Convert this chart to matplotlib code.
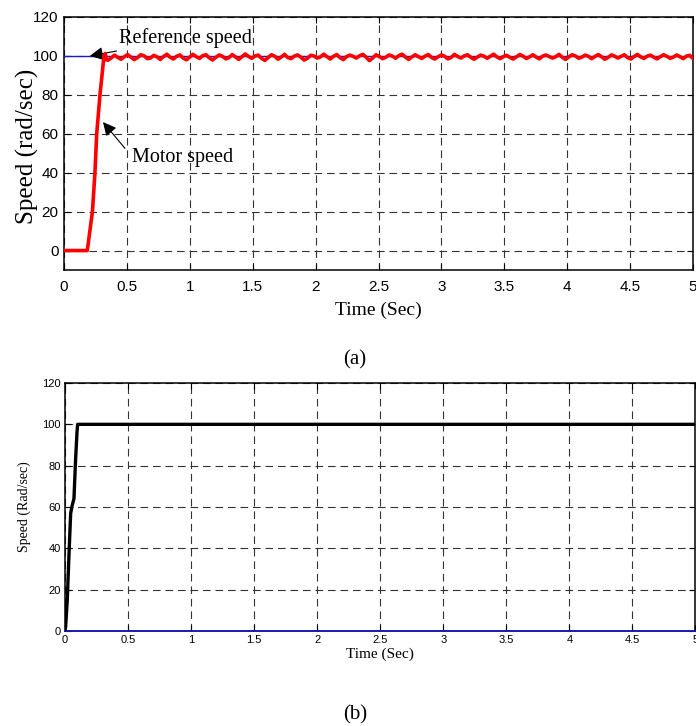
import numpy as np
import matplotlib
matplotlib.use('Agg')
import matplotlib.pyplot as plt

plt.rcParams['lines.scale_dashes'] = False

# panel (a): reference vs motor speed
ref_t = [0.0, 5.0]
ref_speed = [100, 100]
start_t = [0.0, 0.185, 0.226, 0.246, 0.26, 0.286, 0.318, 0.328, 0.338]
start_speed = [0.0, 0.0, 20, 40, 60, 80, 100, 101.2, 98.0]
ripple = [97.8, 99.0, 100.4, 99.2, 98.3, 99.6, 100.7, 99.4, 98.1, 99.1,
          100.6, 100.1, 98.6, 98.9, 100.3, 99.5, 98.2, 99.7, 100.9, 99.3,
          98.4, 99.8, 100.5, 98.9, 98.0, 99.4, 100.8, 99.6, 98.7, 100.2,
          100.6, 99.0, 97.9, 99.3, 100.5, 99.8, 98.5, 99.1, 100.7, 99.5,
          98.2, 99.6, 101.0, 99.7, 98.8, 100.0, 100.4, 98.7, 97.7, 99.2,
          100.6, 99.9, 98.3, 99.4, 100.8, 99.2, 98.6, 99.9, 100.5, 99.4,
          97.9, 98.8, 100.3, 100.0, 98.9, 99.5, 100.9, 99.6, 98.4, 99.8,
          100.7, 99.1, 98.1, 99.7, 100.4, 99.8, 98.9, 100.1, 100.8, 99.3,
          97.6, 99.0, 100.6, 99.7, 98.6, 99.3, 100.5, 99.9, 98.8, 100.2,
          100.9, 99.4, 98.2, 99.5, 100.6, 99.6, 98.7, 99.9, 100.7, 99.2,
          98.4, 99.6, 100.5, 99.8, 98.5, 99.2, 100.8, 99.7, 98.9, 100.0,
          100.6, 99.3, 98.3, 99.4, 100.4, 99.9, 98.8, 99.8, 100.9, 99.5,
          98.6, 99.7, 100.3, 99.2, 98.4, 99.6, 100.7, 99.9, 98.7, 99.5,
          100.6, 99.4, 98.5, 99.9, 100.5, 99.7, 98.9, 99.6, 100.8, 99.3,
          98.2, 99.5, 100.6, 100.0, 98.8, 99.4, 100.4, 99.8, 98.6, 99.7,
          100.7, 99.6, 98.3, 99.2, 100.5, 99.9, 98.9, 99.8, 100.6, 99.1,
          98.4, 99.7, 100.8, 99.5, 98.7, 99.9, 100.4, 99.3, 98.5, 99.6,
          100.6, 99.8, 98.8, 99.4, 100.5, 99.6, 98.6, 99.9, 100.3, 98.7]
ripple_t = np.linspace(0.35, 5.0, len(ripple))

# panel (b)
b_t = [0.0, 0.005, 0.018, 0.031, 0.045, 0.058, 0.071, 0.084, 0.095, 0.1, 5.0]
b_speed = [0, 2, 15, 36, 57, 61, 64, 83, 96, 100, 100]
b_ref_t = [0.0, 5.0]
b_ref = [0, 0]

xticks = [0, 0.5, 1, 1.5, 2, 2.5, 3, 3.5, 4, 4.5, 5]
xlabels = ['0', '0.5', '1', '1.5', '2', '2.5', '3', '3.5', '4', '4.5', '5']
yticks = [0, 20, 40, 60, 80, 100, 120]

W, H = 696, 726
fig = plt.figure(figsize=(W / 100, H / 100), dpi=100)


def box(x0, y0, x1, y1):
    return [x0 / W, 1 - y1 / H, (x1 - x0) / W, (y1 - y0) / H]


def style(ax, fam, size, xpad, ypad):
    ax.set_xlim(0, 5)
    ax.set_xticks(xticks)
    ax.set_xticklabels(xlabels, family=fam, fontsize=size)
    ax.set_yticks(yticks)
    ax.set_yticklabels([str(v) for v in yticks], family=fam, fontsize=size)
    ax.tick_params(direction='in', top=True, right=True, length=4, width=0.8)
    ax.tick_params(axis='x', pad=xpad)
    ax.tick_params(axis='y', pad=ypad)
    ax.grid(True, color='0.2', linestyle=(0, (5.5, 3.5)), linewidth=0.8)
    for s in ax.spines.values():
        s.set_linewidth(1.1)


# (a)
ax1 = fig.add_axes(box(64, 17, 693, 270))
ax1.plot(ref_t, ref_speed, color='#1a1ad0', lw=1.0, zorder=3)
motor_t = list(start_t) + list(ripple_t)
motor_v = list(start_speed) + ripple
ax1.plot(motor_t, motor_v, color='red', lw=2.6, zorder=4)
ax1.set_ylim(-10, 120)
style(ax1, 'Liberation Sans', 11, 7, 4)
ax1.set_ylabel('Speed (rad/sec)', family='Liberation Serif', fontsize=18)
ax1.yaxis.set_label_coords(-0.04, 0.49)
ax1.set_xlabel('Time (Sec)', family='Liberation Serif', fontsize=14, labelpad=6)

ax1.annotate('Reference speed', xy=(0.205, 100), xytext=(0.44, 109),
             family='Liberation Serif', fontsize=14.5, va='center', ha='left',
             arrowprops=dict(arrowstyle='-|>', color='k', lw=0.8, mutation_scale=20,
                             shrinkA=0, shrinkB=0))
ax1.annotate('', xy=(0.31, 66), xytext=(0.485, 52.5),
             arrowprops=dict(arrowstyle='-|>', color='k', lw=0.8, mutation_scale=20,
                             shrinkA=0, shrinkB=0))
ax1.text(0.54, 48, 'Motor speed', family='Liberation Serif', fontsize=14.5,
         va='center', ha='left')
fig.text(355 / W, 1 - 360 / H, '(a)', family='Liberation Serif', fontsize=15,
         ha='center', va='center')

# (b)
ax2 = fig.add_axes(box(65, 383, 695.5, 631))
ax2.plot(b_ref_t, b_ref, color='#1a1ad0', lw=1.2, zorder=3, clip_on=False)
ax2.plot(b_t, b_speed, color='black', lw=2.4, zorder=4)
ax2.set_ylim(0, 120)
style(ax2, 'Liberation Sans', 8, 3, 3)
ax2.set_ylabel('Speed (Rad/sec)', family='Liberation Serif', fontsize=10, labelpad=8)
ax2.set_xlabel('Time (Sec)', family='Liberation Serif', fontsize=11, labelpad=2)
fig.text(355 / W, 1 - 715 / H, '(b)', family='Liberation Serif', fontsize=15,
         ha='center', va='center')

fig.savefig('out.png', dpi=100)
